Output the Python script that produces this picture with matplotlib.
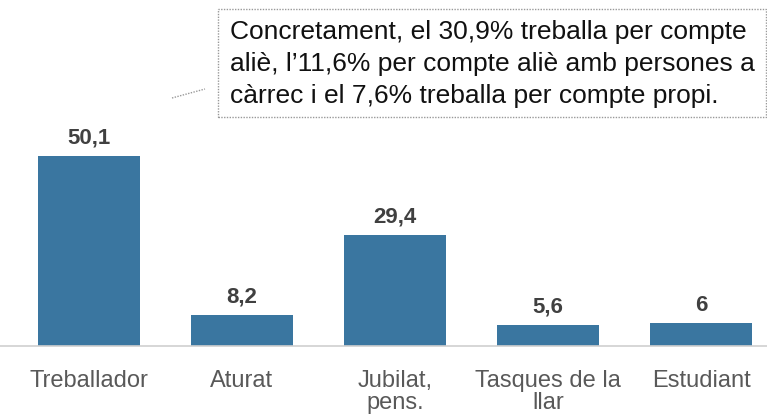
import matplotlib.pyplot as plt

# Dades
categories = ['Treballador', 'Aturat', 'Jubilat,\npens.', 'Tasques de la\nllar', 'Estudiant']
values = [50.1, 8.2, 29.4, 5.6, 6]
value_labels = ['50,1', '8,2', '29,4', '5,6', '6']
note = ("Concretament, el 30,9% treballa per compte\n"
        "aliè, l\u201911,6% per compte aliè amb persones a\n"
        "càrrec i el 7,6% treballa per compte propi.")

plt.rcParams['font.family'] = ['Liberation Sans', 'DejaVu Sans']

fig = plt.figure(figsize=(7.67, 4.15), dpi=100)
ax = fig.add_axes([0, 69 / 415, 1, 1 - 69 / 415 - 9 / 415])

bar_color = '#3a76a0'
ax.bar(range(len(values)), values, width=0.665, color=bar_color)
for i, (v, lab) in enumerate(zip(values, value_labels)):
    ax.annotate(lab, (i, v), xytext=(0, 9), textcoords='offset points',
                ha='center', va='baseline', fontsize=16, fontweight='bold',
                color='#404040')

ax.set_xlim(-0.58, 4.43)
ax.set_ylim(0, 89)
ax.set_xticks(range(len(values)))
ax.set_xticklabels(categories, fontsize=17, color='#595959', linespacing=1.05)
ax.tick_params(axis='x', length=0, pad=17)
ax.set_yticks([])
for s in ['top', 'right', 'left']:
    ax.spines[s].set_visible(False)
ax.spines['bottom'].set_color('#d0d0d0')
ax.spines['bottom'].set_linewidth(1.2)

# Nota amb marc puntejat
fig.text(230 / 767, 1 - 64 / 415, note, ha='left', va='center', fontsize=19,
         color='#111111', linespacing=1.42)
box = plt.Rectangle((218 / 767, 1 - 117 / 415), (766 - 218) / 767, 108 / 415,
                    transform=fig.transFigure, fill=False, edgecolor='#999999',
                    linestyle=(0, (1, 1)), linewidth=1)
fig.add_artist(box)
fig.add_artist(plt.Line2D([172 / 767, 205 / 767], [1 - 98 / 415, 1 - 89 / 415],
                          transform=fig.transFigure, color='#999999',
                          linestyle=(0, (1, 1)), linewidth=1))

fig.savefig('out.png', dpi=100)
